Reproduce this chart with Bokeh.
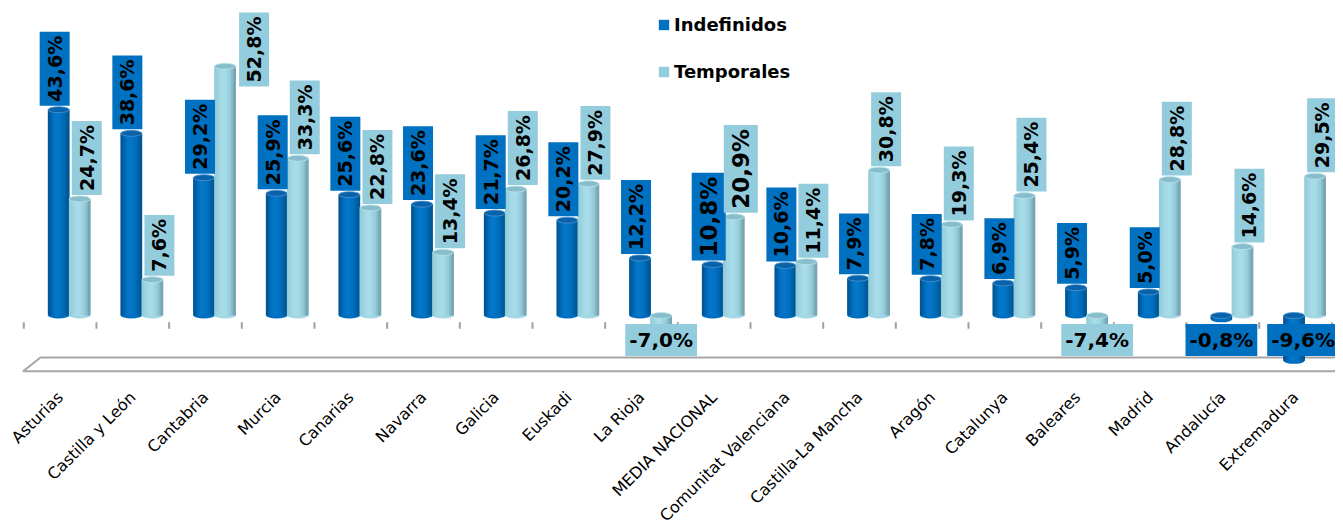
import math
from bokeh.plotting import figure
from bokeh.models import (FixedTicker, Legend, LegendItem, ColumnDataSource,
                          Range1d)
from bokeh.core.properties import value
from bokeh.embed import file_html
from bokeh.resources import INLINE

# ---------------- data ----------------
categories = ["Asturias", "Castilla y León", "Cantabria", "Murcia", "Canarias",
              "Navarra", "Galicia", "Euskadi", "La Rioja", "MEDIA NACIONAL",
              "Comunitat Valenciana", "Castilla-La Mancha", "Aragón",
              "Catalunya", "Baleares", "Madrid", "Andalucía", "Extremadura"]
indefinidos = [43.6, 38.6, 29.2, 25.9, 25.6, 23.6, 21.7, 20.2, 12.2, 10.8,
               10.6, 7.9, 7.8, 6.9, 5.9, 5.0, -0.8, -9.6]
temporales = [24.7, 7.6, 52.8, 33.3, 22.8, 13.4, 26.8, 27.9, -7.0, 20.9,
              11.4, 30.8, 19.3, 25.4, -7.4, 28.8, 14.6, 29.5]
series_names = ["Indefinidos", "Temporales"]
highlight = "MEDIA NACIONAL"

# ---------------- layout / style ----------------
FONT = "DejaVu Sans"
FRAME_W, FRAME_H = 1335, 374
Y0, Y1 = -12.5, 66.74
X0, X1 = -0.8206, 17.55
PPU = FRAME_H / (Y1 - Y0)          # pixels per percentage point
n = len(categories)

BAR_W = 0.29
SERIES_OFF = [-0.02, 0.27]
ELL_H = 6 / PPU


def hex2rgb(h):
    h = h.lstrip("#")
    return [int(h[i:i + 2], 16) for i in (0, 2, 4)]


def gradient(stops, n_out):
    out = []
    for k in range(n_out):
        t = k / (n_out - 1)
        pos = [s[0] for s in stops]
        j = 0
        while j < len(stops) - 2 and t > pos[j + 1]:
            j += 1
        t0, c0 = stops[j]
        t1, c1 = stops[j + 1]
        f = 0 if t1 == t0 else (t - t0) / (t1 - t0)
        a, b = hex2rgb(c0), hex2rgb(c1)
        out.append("#%02x%02x%02x" % tuple(int(round(a[i] + (b[i] - a[i]) * f))
                                            for i in range(3)))
    return out


NSTRIP = 10
styles = [
    dict(base="#0070C0", box="#0070C0", top="#0A62AA", rim="#4A95D2",
         mid="#006EBE",
         shades=gradient([(0, "#005596"), (0.25, "#0070C2"), (0.4, "#0879CB"),
                          (0.7, "#0070C0"), (1, "#005896")], NSTRIP)),
    dict(base="#92CDDC", box="#93CDDD", top="#88BDCB", rim="#BDE4EE",
         mid="#A2D7E5",
         shades=gradient([(0, "#94CCDA"), (0.3, "#A6DBE8"), (0.5, "#A8DCE9"),
                          (0.8, "#95CAD8"), (1, "#76A6B3")], NSTRIP)),
]

p = figure(frame_width=FRAME_W, frame_height=FRAME_H,
           x_range=Range1d(X0, X1), y_range=Range1d(Y0, Y1),
           output_backend="svg", toolbar_location=None,
           y_axis_location=None,
           min_border_left=0, min_border_right=0, min_border_top=0,
           min_border_bottom=140, background_fill_color="white",
           border_fill_color="white")
p.outline_line_color = None
p.xgrid.visible = False
p.ygrid.visible = False

# floor (3D base plate)
depth = 0.24
floor_y_top = -(357 - 315) / PPU
floor_y_bot = -(370.7 - 315) / PPU
p.patch(x=[-0.51, -0.51 + depth, n - 0.5 + depth, n - 0.46],
        y=[floor_y_bot, floor_y_top, floor_y_top, floor_y_bot],
        fill_color="white", line_color="#A6A6A6", line_width=2)

# boundary ticks
bounds = [i - 0.5 for i in range(n + 1)]
p.segment(x0=bounds, x1=bounds, y0=[-1.42] * len(bounds),
          y1=[-2.82] * len(bounds), line_color="#A0A0A0", line_width=2)

# cylinders
all_series = [indefinidos, temporales]
for s, vals in enumerate(all_series):
    st = styles[s]
    xc = [i + SERIES_OFF[s] for i in range(n)]
    tops = [max(v, 0) for v in vals]
    bots = [min(v, 0) for v in vals]
    # bottom cap
    p.ellipse(x=xc, y=bots, width=BAR_W, height=ELL_H,
              fill_color=st["mid"], line_color=None)
    # solid body underneath the shading strips
    p.vbar(x=xc, width=BAR_W, top=tops, bottom=bots, fill_color=st["mid"],
           line_color=None)
    sw = BAR_W / NSTRIP
    for k, col in enumerate(st["shades"]):
        xs = [x - BAR_W / 2 + sw * (k + 0.5) for x in xc]
        p.vbar(x=xs, width=sw * 1.3, top=tops, bottom=bots, fill_color=col,
               line_color=None)
    # top cap
    p.ellipse(x=xc, y=tops, width=BAR_W, height=ELL_H,
              fill_color=st["top"], line_color=st["rim"], line_width=0.8)

# data labels
def fmt(v):
    return f"{v:.1f}".replace(".", ",") + "%"

label_x_off = [-4, 7]
for s, vals in enumerate(all_series):
    st = styles[s]
    up = dict(x=[], y=[], t=[], fs=[], xo=[])
    clamp = dict(x=[], y=[], t=[], fs=[], xo=[])
    neg = dict(x=[], y=[], t=[], fs=[], xo=[])
    for i, v in enumerate(vals):
        fs = "23px" if categories[i] == highlight else "19px"
        xb = i + SERIES_OFF[s]
        if v < 0:
            prev_neg = i > 0 and any(a[i - 1] < 0 for a in all_series)
            neg["x"].append(xb); neg["y"].append(-5.2); neg["t"].append(fmt(v))
            neg["fs"].append("20px"); neg["xo"].append(9 if prev_neg else 0)
        else:
            ybox = v + 4 / PPU
            if ybox + 84 / PPU > Y1 - 8 / PPU:
                clamp["x"].append(xb); clamp["y"].append(Y1 - 12 / PPU)
                clamp["t"].append(fmt(v)); clamp["fs"].append(fs)
                clamp["xo"].append(29)
            else:
                up["x"].append(xb); up["y"].append(ybox); up["t"].append(fmt(v))
                up["fs"].append(fs); up["xo"].append(label_x_off[s])
    common = dict(text_font=value(FONT), text_font_style="bold",
                  text_color="black", padding=4,
                  background_fill_color=st["box"], border_line_color=None)
    p.text(x="x", y="y", text="t", text_font_size="fs", x_offset="xo",
           angle=math.pi / 2, anchor="center_left",
           source=ColumnDataSource(up), **common)
    p.text(x="x", y="y", text="t", text_font_size="fs", x_offset="xo",
           angle=math.pi / 2, anchor="center_right",
           source=ColumnDataSource(clamp), **common)
    p.text(x="x", y="y", text="t", text_font_size="fs", x_offset="xo",
           angle=0, anchor="center",
           source=ColumnDataSource(neg), **common)

# legend (zero-size proxy renderers that only supply the legend swatches)
dummies = [p.vbar(x=[0], top=[0], bottom=[0], width=0,
                  fill_color=styles[s]["base"], line_color=None)
           for s in range(2)]
leg = Legend(items=[LegendItem(label=series_names[s], renderers=[dummies[s]])
                    for s in range(2)],
             location=(657, 292), orientation="vertical", spacing=26,
             glyph_width=13, glyph_height=13, label_standoff=4,
             label_text_font=FONT, label_text_font_size="18px",
             label_text_font_style="bold", label_text_color="black",
             padding=0, margin=0, border_line_color=None,
             background_fill_alpha=0)
p.add_layout(leg)

# x axis
ax = p.xaxis[0]
ax.ticker = FixedTicker(ticks=list(range(n)))
ax.major_label_overrides = {i: c for i, c in enumerate(categories)}
ax.major_label_orientation = math.pi / 4
ax.axis_line_color = None
ax.major_tick_line_color = None
ax.minor_tick_line_color = None
ax.major_label_standoff = 14
ax.major_label_text_font = FONT
ax.major_label_text_font_size = "16px"
ax.major_label_text_color = "black"

open("out.html", "w").write(file_html(p, INLINE))
